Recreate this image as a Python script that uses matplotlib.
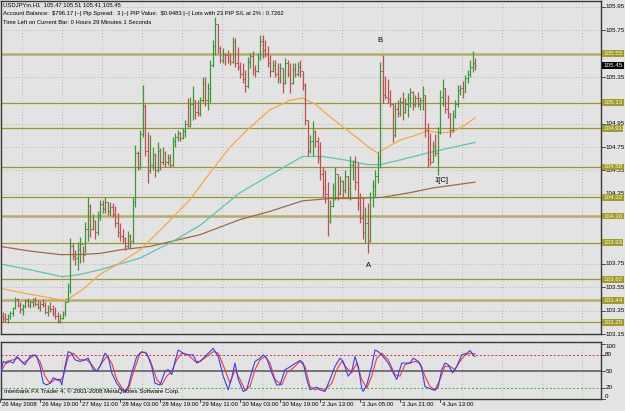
import numpy as np
import matplotlib.pyplot as plt

# ---- hourly USDJPY bars (open = previous close) ----
first_open = 103.30
highs = [103.34, 103.33, 103.32, 103.35, 103.38, 103.47, 103.46, 103.42, 103.41, 103.45,
         103.46, 103.44, 103.46, 103.47, 103.44, 103.43, 103.45, 103.42, 103.40, 103.42,
         103.40, 103.38, 103.34, 103.32, 103.35, 103.43, 103.59, 103.97, 103.93, 103.87,
         103.94, 103.98, 103.90, 104.11, 104.32, 104.26, 104.18, 104.13, 104.20, 104.30,
         104.30, 104.32, 104.28, 104.28, 104.27, 104.25, 104.19, 104.10, 104.05, 103.98,
         104.03, 104.01, 104.32, 104.77, 104.72, 104.90, 105.28, 105.12, 104.88, 104.85,
         104.75, 104.70, 104.79, 104.74, 104.75, 104.72, 104.69, 104.69, 104.84, 104.87,
         104.90, 104.88, 104.91, 104.98, 105.17, 105.18, 105.27, 105.15, 105.15, 105.18,
         105.35, 105.35, 105.30, 105.50, 105.67, 105.86, 105.80, 105.62, 105.60, 105.56,
         105.58, 105.56, 105.69, 105.68, 105.61, 105.48, 105.47, 105.41, 105.52, 105.56,
         105.57, 105.45, 105.56, 105.71, 105.71, 105.67, 105.62, 105.54, 105.50, 105.50,
         105.47, 105.47, 105.43, 105.51, 105.50, 105.47, 105.47, 105.47, 105.48, 105.50,
         105.40, 105.30, 104.98, 104.85, 104.97, 104.90, 104.84, 104.79, 104.58, 104.55,
         104.45, 104.30, 104.44, 104.58, 104.52, 104.50, 104.47, 104.55, 104.50, 104.67,
         104.64, 104.67, 104.62, 104.36, 104.32, 104.24, 104.27, 104.37, 104.47, 104.55,
         104.71, 105.48, 105.54, 105.36, 105.33, 105.24, 105.12, 105.13, 105.15, 105.18,
         105.22, 105.17, 105.21, 105.26, 105.23, 105.20, 105.22, 105.18, 105.27, 105.20,
         104.96, 104.87, 104.80, 104.86, 104.92, 105.24, 105.33, 105.26, 105.20, 105.04,
         105.07, 105.15, 105.28, 105.28, 105.32, 105.37, 105.41, 105.50, 105.57, 105.51]
lows = [103.25, 103.25, 103.24, 103.28, 103.30, 103.36, 103.38, 103.33, 103.31, 103.37,
        103.38, 103.37, 103.38, 103.39, 103.36, 103.35, 103.38, 103.32, 103.30, 103.34,
        103.30, 103.28, 103.24, 103.24, 103.28, 103.30, 103.42, 103.50, 103.78, 103.74,
        103.70, 103.76, 103.77, 103.84, 103.95, 103.98, 104.04, 103.96, 104.00, 104.13,
        104.19, 104.19, 104.17, 104.16, 104.15, 104.07, 103.98, 103.95, 103.93, 103.87,
        103.89, 103.89, 103.93, 104.24, 104.55, 104.56, 104.84, 104.67, 104.44, 104.53,
        104.55, 104.49, 104.54, 104.55, 104.60, 104.58, 104.60, 104.58, 104.59, 104.75,
        104.80, 104.80, 104.82, 104.84, 104.92, 104.92, 104.98, 104.99, 105.02, 105.02,
        105.14, 105.10, 105.07, 105.14, 105.44, 105.54, 105.56, 105.47, 105.47, 105.45,
        105.47, 105.45, 105.47, 105.44, 105.41, 105.34, 105.30, 105.22, 105.26, 105.43,
        105.37, 105.35, 105.39, 105.50, 105.51, 105.52, 105.44, 105.35, 105.39, 105.35,
        105.30, 105.30, 105.21, 105.29, 105.35, 105.21, 105.29, 105.35, 105.36, 105.35,
        105.24, 104.94, 104.67, 104.70, 104.67, 104.75, 104.61, 104.47, 104.32, 104.27,
        103.99, 104.10, 104.24, 104.30, 104.30, 104.34, 104.32, 104.36, 104.32, 104.30,
        104.47, 104.38, 104.21, 104.10, 103.96, 103.93, 103.84, 103.94, 104.24, 104.32,
        104.44, 104.57, 105.13, 105.16, 105.13, 105.09, 104.79, 104.84, 105.01, 105.02,
        104.98, 105.04, 105.01, 105.09, 105.07, 105.09, 105.09, 105.07, 105.07, 104.84,
        104.58, 104.60, 104.62, 104.67, 104.51, 104.86, 105.10, 105.04, 105.00, 104.84,
        104.88, 105.00, 105.09, 105.20, 105.17, 105.22, 105.30, 105.35, 105.39, 105.41]
closes = [103.29, 103.28, 103.30, 103.33, 103.37, 103.45, 103.40, 103.36, 103.39, 103.43,
          103.40, 103.42, 103.44, 103.41, 103.38, 103.41, 103.40, 103.34, 103.37, 103.36,
          103.33, 103.30, 103.26, 103.29, 103.33, 103.42, 103.56, 103.90, 103.82, 103.80,
          103.88, 103.92, 103.83, 104.05, 104.25, 104.05, 104.12, 104.02, 104.17, 104.26,
          104.22, 104.28, 104.20, 104.24, 104.18, 104.10, 104.02, 103.99, 103.97, 103.90,
          103.99, 103.95, 104.28, 104.70, 104.58, 104.86, 105.10, 104.72, 104.55, 104.60,
          104.68, 104.55, 104.72, 104.62, 104.70, 104.62, 104.66, 104.60, 104.80, 104.84,
          104.87, 104.83, 104.89, 104.95, 104.93, 105.12, 105.15, 105.05, 105.04, 105.15,
          105.30, 105.15, 105.26, 105.45, 105.62, 105.80, 105.60, 105.50, 105.55, 105.54,
          105.50, 105.48, 105.65, 105.47, 105.44, 105.38, 105.33, 105.27, 105.48, 105.53,
          105.42, 105.40, 105.52, 105.66, 105.58, 105.55, 105.47, 105.40, 105.45, 105.38,
          105.34, 105.43, 105.30, 105.47, 105.38, 105.30, 105.42, 105.38, 105.44, 105.40,
          105.28, 104.98, 104.72, 104.80, 104.88, 104.80, 104.66, 104.52, 104.40, 104.35,
          104.12, 104.25, 104.40, 104.52, 104.36, 104.46, 104.38, 104.50, 104.40, 104.60,
          104.62, 104.45, 104.26, 104.14, 104.02, 104.10, 103.95, 104.32, 104.42, 104.50,
          104.66, 105.40, 105.20, 105.18, 105.16, 105.12, 104.85, 105.08, 105.04, 105.14,
          105.05, 105.12, 105.17, 105.22, 105.12, 105.17, 105.12, 105.15, 105.20, 104.90,
          104.65, 104.62, 104.76, 104.70, 104.88, 105.18, 105.26, 105.08, 105.04, 104.90,
          105.02, 105.12, 105.24, 105.26, 105.22, 105.34, 105.38, 105.44, 105.47, 105.45]
last_open = 105.47

ma_orange = [(-1, 103.54), (11, 103.49), (24, 103.44), (27, 103.46), (32, 103.53), (39, 103.66),
             (47, 103.76), (55, 103.87), (65, 104.08), (75, 104.30), (83, 104.53), (91, 104.75),
             (98, 104.90), (107, 105.07), (115, 105.15), (120, 105.17), (125, 105.12), (131, 105.01),
             (137, 104.91), (143, 104.81), (147, 104.74), (150, 104.70), (154, 104.75), (159, 104.81),
             (165, 104.85), (170, 104.89), (175, 104.87), (180, 104.88), (185, 104.94), (189, 105.00)]
ma_teal = [(-1, 103.75), (11, 103.70), (24, 103.64), (31, 103.66), (39, 103.70), (47, 103.75),
           (55, 103.80), (67, 103.93), (79, 104.08), (95, 104.36), (107, 104.51), (120, 104.67),
           (128, 104.67), (137, 104.64), (146, 104.60), (151, 104.60), (159, 104.64), (172, 104.71),
           (189, 104.79)]
ma_brown = [(-1, 103.90), (11, 103.86), (23, 103.83), (31, 103.83), (39, 103.84), (47, 103.87),
            (59, 103.90), (67, 103.94), (79, 104.00), (95, 104.13), (107, 104.20), (120, 104.29),
            (131, 104.31), (139, 104.31), (152, 104.32), (163, 104.36), (172, 104.40), (189, 104.45)]

# stochastic %K (blue) and %D (red)
stoch_k = [(-1, 41), (0.3, 68), (1.7, 65), (3, 68), (4.3, 65), (5.7, 77), (7, 71), (9, 62), (11, 77),
           (12.3, 80), (13.7, 77), (15, 59), (16.3, 28), (17.7, 25), (19, 28), (20.3, 38), (21.7, 35),
           (23, 35), (23.7, 25), (25, 59), (26.3, 86), (27.7, 83), (29, 71), (31, 68), (33, 71),
           (34.3, 74), (36.3, 53), (37.7, 50), (39, 59), (41, 83), (42.3, 77), (43.7, 47), (45.7, 28),
           (47.7, 16), (49, 13), (50.3, 22), (51.7, 47), (53.7, 77), (55.7, 86), (57.7, 83), (59.7, 59),
           (61, 28), (63, 25), (65, 50), (66.3, 53), (67.7, 44), (69, 68), (70.3, 89), (72.3, 83),
           (74.3, 80), (76.3, 80), (77.7, 65), (79, 68), (81, 77), (82.3, 83), (84.3, 92), (86.3, 77),
           (88.3, 41), (90.3, 16), (91.7, 38), (93, 65), (94.3, 35), (96.3, 13), (97.7, 16), (99, 38),
           (101, 68), (103, 74), (104.3, 80), (105.7, 74), (107.7, 47), (109.7, 25), (111, 25),
           (113, 53), (114.3, 56), (116.3, 62), (119, 70), (120.3, 65), (121.7, 35), (123, 16),
           (124.3, 19), (125.7, 21), (127, 16), (129, 13), (131, 35), (133, 59), (135, 74), (136.3, 68),
           (138.3, 41), (139.7, 50), (141, 77), (142.3, 59), (143.7, 19), (144.3, 13), (145.7, 25),
           (147.7, 59), (149, 89), (150.3, 86), (151.7, 80), (154.3, 65), (156.3, 47), (157.7, 35),
           (159.7, 65), (161, 65), (163, 65), (164.3, 74), (166.3, 68), (167.7, 56), (169, 22),
           (171, 18), (173, 15), (174.3, 22), (175.7, 53), (177, 65), (178.3, 62), (180, 47),
           (181.7, 59), (183.7, 80), (185.7, 83), (187, 88), (188.3, 80), (189, 77)]
stoch_d = [(-1, 47), (1.7, 68), (4.3, 71), (6.3, 74), (8.3, 65), (11, 74), (13, 80), (15, 68), (17, 41),
           (19, 28), (21, 35), (23, 32), (24.3, 41), (26.3, 77), (28.3, 83), (31, 71), (33.7, 71),
           (35.7, 62), (37.7, 50), (39.7, 65), (41.7, 77), (43.7, 65), (45.7, 35), (48.3, 16),
           (50.3, 16), (52.3, 47), (55, 83), (57, 85), (59, 71), (61.7, 35), (63.7, 25), (65.7, 41),
           (67.7, 50), (69.7, 71), (71.7, 83), (74.3, 80), (77, 68), (79, 68), (81.7, 77), (84.3, 86),
           (86.3, 83), (89, 53), (91, 28), (93, 53), (95, 35), (97, 16), (99, 22), (101, 53), (103, 71),
           (105, 77), (107, 65), (109, 35), (111.7, 25), (113.7, 47), (116.3, 56), (119, 68), (121, 59),
           (123, 22), (125, 16), (127, 19), (129, 16), (131.7, 28), (133.7, 53), (135.7, 68), (137.7, 56),
           (139.7, 47), (141.7, 65), (143.7, 35), (145.7, 19), (147.7, 41), (149.7, 74), (151.7, 83),
           (154.3, 71), (157, 44), (159, 41), (161, 62), (163, 65), (165, 68), (167, 65), (169, 41),
           (171, 22), (173, 16), (175, 35), (177, 59), (179, 59), (181, 53), (183, 68), (185, 80),
           (187, 83), (189, 82)]

levels = [105.55, 105.13, 104.91, 104.58, 104.32, 104.16, 103.93, 103.62, 103.44, 103.25]
thick_levels = [105.55, 104.16, 103.44]
price_ticks = [105.95, 105.75, 105.35, 104.95, 104.75, 104.55, 104.35, 103.75, 103.55, 103.35, 103.15]
last_price = 105.45
date_labels = ["26 May 2008", "26 May 19:00", "27 May 11:00", "28 May 03:00", "28 May 19:00",
               "29 May 11:00", "30 May 03:00", "30 May 19:00", "2 Jun 13:00", "3 Jun 05:00",
               "3 Jun 21:00", "4 Jun 13:00"]
stoch_ticks = [100, 80, 50, 20, 0]

header = ["USDJPYm,H1  105.47 105.51 105.41 105.45",
          "Account Balance:  $796.17 |~| Pip Spread:  3 |~| PIP Value:  $0.9483 |~| Lots with 23 PIP S/L at 2% : 0.7262",
          "Time Left on Current Bar: 0 Hours 29 Minutes 1 Seconds"]

plt.rcParams['font.family'] = ['Liberation Sans', 'DejaVu Sans']

BG = '#e3e3e3'
GRID = '#a8a8a8'
FS = 4.5
W, H = 625, 411

fig = plt.figure(figsize=(W / 100, H / 100), dpi=100, facecolor=BG)
ax = fig.add_axes([1 / W, 1 - 334 / H, 600 / W, 333 / H], facecolor=BG)
ax2 = fig.add_axes([1 / W, 1 - 399 / H, 600 / W, 57 / H], facecolor=BG)

for a in (ax, ax2):
    a.set_xlim(-0.6, 239.4)
    a.set_xticks([])
    a.set_yticks([])
    for s in a.spines.values():
        s.set_color('#383838')
        s.set_linewidth(1.0)
ax.set_ylim(103.150, 106.001)
ax2.set_ylim(-0.8, 103.6)

# dotted grid
for g in np.arange(7.8, 240, 16):
    ax.axvline(g, color=GRID, ls=(0, (1, 2.5)), lw=0.6, zorder=0)
    ax2.axvline(g, color=GRID, ls=(0, (1, 2.5)), lw=0.6, zorder=0)
for t in price_ticks:
    ax.axhline(t, color=GRID, ls=(0, (1, 2.5)), lw=0.6, zorder=0)

# support / resistance levels
for lv in levels:
    if lv in thick_levels:
        ax.axhline(lv, color='#b4ae6a', lw=1.8, zorder=1)
    else:
        ax.axhline(lv, color='#9a9630', lw=0.9, zorder=1)

# moving averages
for knots, col in ((ma_brown, '#a06a48'), (ma_teal, '#5cc4b4'), (ma_orange, '#f5a848')):
    xs, ys = zip(*knots)
    ax.plot(xs, ys, color=col, lw=0.9, zorder=2)

# OHLC bars
opens = [first_open] + closes[:-1]
opens[-1] = last_open
idx = np.arange(len(closes))
cols = []
for o, c in zip(opens, closes):
    if c > o:
        cols.append('#3a9a3a')
    elif c < o:
        cols.append('#c24f4f')
    else:
        cols.append('#404040')
ax.vlines(idx, lows, highs, colors=cols, lw=0.9, zorder=3)
ax.hlines(opens, idx - 0.45, idx, colors=cols, lw=0.7, zorder=3)
ax.hlines(closes, idx, idx + 0.45, colors=cols, lw=0.7, zorder=3)

# wave labels
ax.text(151, 105.66, "B", fontsize=5.5, ha='center', va='center', color='black')
ax.text(146.5, 103.74, "A", fontsize=5.5, ha='center', va='center', color='black')
ax.text(175.5, 104.46, "1[C]", fontsize=5.5, ha='center', va='center', color='black')

# header text
for k, line in enumerate(header):
    fig.text(3 / W, 1 - (5 + 8.5 * k) / H, line, fontsize=4.2, va='center', ha='left',
             color='black', parse_math=False)

# right price scale
yt = ax.get_yaxis_transform()
for t in price_ticks:
    ax.plot([1.0, 1.006], [t, t], transform=yt, color='#383838', lw=0.6, clip_on=False)
    ax.text(1.007, t, f"{t:.2f}", transform=yt, fontsize=FS, va='center', ha='left', color='black')
for lv in levels:
    ax.text(1.004, lv, f"{lv:.2f}", transform=yt, fontsize=FS, va='center', ha='left', color='#f4f4d8',
            bbox=dict(boxstyle='square,pad=0.15', fc='#a09c2c', ec='none'), zorder=5)
ax.text(1.004, last_price, f"{last_price:.2f}", transform=yt, fontsize=FS, va='center', ha='left',
        color='white', bbox=dict(boxstyle='square,pad=0.15', fc='black', ec='none'), zorder=6)

# stochastic panel
ax2.axhline(80, color='#e03030', ls=(0, (2, 2)), lw=0.7, zorder=1)
ax2.axhline(20, color='#40b040', ls=(0, (2, 2)), lw=0.7, zorder=1)
ax2.axhline(50, color='#606060', lw=1.2, zorder=1)
xs, ys = zip(*stoch_d)
ax2.plot(xs, ys, color='#f03c3c', lw=0.8, zorder=2)
xs, ys = zip(*stoch_k)
ax2.plot(xs, ys, color='#3c3cf0', lw=0.8, zorder=3)
yt2 = ax2.get_yaxis_transform()
for t in stoch_ticks:
    va = 'top' if t == 100 else ('bottom' if t == 0 else 'center')
    ax2.text(1.007, t, str(t), transform=yt2, fontsize=FS, va=va, ha='left', color='black')
    ax2.plot([1.0, 1.006], [t, t], transform=yt2, color='#383838', lw=0.6, clip_on=False)
ax2.text(3 / 600, 0.08, "Interbank FX Trader 4, \u00a9 2001-2008 MetaQuotes Software Corp.",
         transform=ax2.transAxes, fontsize=4.4, va='bottom', ha='left', color='black')

# time axis
xt = ax2.get_xaxis_transform()
for k, lab in enumerate(date_labels):
    pos = -1 + 16 * k
    ax2.plot([pos, pos], [0, -0.06], transform=xt, color='#383838', lw=0.6, clip_on=False)
    ax2.text(pos + 0.8, -0.05, lab, transform=xt, fontsize=4.3, va='top', ha='left', color='black')

fig.savefig("out.png", dpi=100, facecolor=BG)
